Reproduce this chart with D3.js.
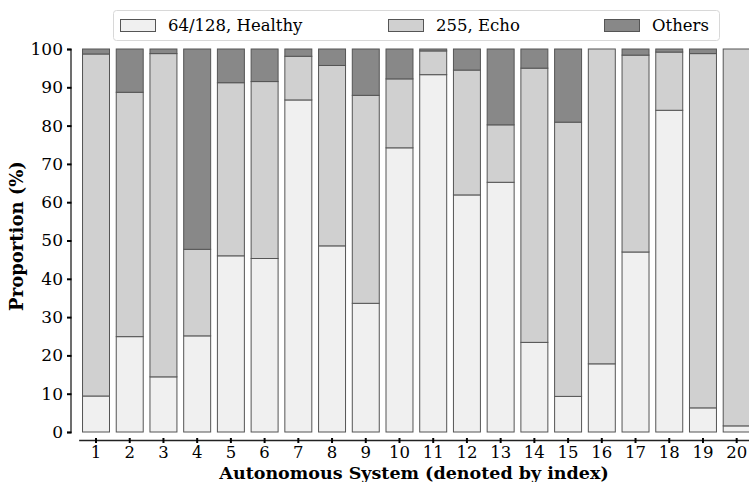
<!DOCTYPE html>
<html>
<head>
<meta charset="utf-8">
<script src="https://cdn.jsdelivr.net/npm/d3@7"></script>
<style>
  body { margin: 0; background: #fff; }
  text { font-family: "DejaVu Serif", serif; fill: #000; }
</style>
</head>
<body>
<svg id="chart" width="749" height="482"></svg>
<script>
// values, in percent
var systems = ["1","2","3","4","5","6","7","8","9","10","11","12","13","14","15","16","17","18","19","20"];
var healthy = [9.4, 24.9, 14.4, 25.1, 46.0, 45.3, 86.7, 48.6, 33.6, 74.2, 93.3, 61.9, 65.2, 23.4, 9.3, 17.8, 47.0, 84.0, 6.3, 1.6];
var echo    = [89.3, 63.8, 84.4, 22.6, 45.2, 46.2, 11.4, 47.1, 54.3, 18.0, 6.2, 32.6, 15.0, 71.6, 71.6, 82.2, 51.4, 15.2, 92.5, 98.4];
var seriesNames = ["64/128, Healthy", "255, Echo", "Others"];
var colors = ["#f0f0f0", "#d0d0d0", "#888888"];
var yTicks = [0, 10, 20, 30, 40, 50, 60, 70, 80, 90, 100];

var rows = systems.map(function(s, i) {
    return { sys: s, healthy: healthy[i], echo: echo[i], others: Math.max(0, 100 - healthy[i] - echo[i]) };
});
var stack = d3.stack().keys(["healthy", "echo", "others"])(rows);

var svg = d3.select("#chart");

var x = d3.scaleBand().domain(systems).range([79.15, 753.55]).paddingInner(0.2).paddingOuter(0.1);
var y = d3.scaleLinear().domain([0, 100]).range([432, 49]);

// bars
svg.selectAll("g.layer").data(stack).enter().append("g")
    .attr("class", "layer")
    .attr("fill", function(d, i) { return colors[i]; })
    .selectAll("rect").data(function(d) { return d; })
    .enter().append("rect")
        .attr("x", function(d) { return x(d.data.sys); })
        .attr("width", x.bandwidth())
        .attr("y", function(d) { return y(d[1]); })
        .attr("height", function(d) { return y(d[0]) - y(d[1]); })
        .attr("stroke", "#555")
        .attr("stroke-width", 1);

// y axis
var yAxis = d3.axisLeft(y).tickValues(yTicks).tickSize(3.5).tickPadding(4);
var gy = svg.append("g").attr("transform", "translate(70.5,0)").call(yAxis);
gy.select(".domain").attr("stroke", "#222").attr("stroke-width", 1.3);
gy.selectAll(".tick line").attr("stroke", "#000").attr("stroke-width", 2).attr("x2", -3.5).attr("x1", 1);
gy.selectAll(".tick text").style("font-family", "DejaVu Serif").style("font-size", "17px");

// x axis
var xAxis = d3.axisBottom(x).tickSizeInner(2.5).tickSizeOuter(0).tickPadding(3);
var gx = svg.append("g").attr("transform", "translate(0,440.5)").call(xAxis);
gx.select(".domain").attr("stroke", "#222").attr("stroke-width", 1.3)
    .attr("d", "M79.15,0H753.55");
gx.selectAll(".tick line").attr("stroke", "#000").attr("stroke-width", 2).attr("y1", -2.5);
gx.selectAll(".tick text").style("font-family", "DejaVu Serif").style("font-size", "16.5px");

// axis titles
svg.append("text")
    .attr("x", 414).attr("y", 478.5)
    .attr("text-anchor", "middle")
    .style("font-size", "17.5px").style("font-weight", "bold")
    .text("Autonomous System (denoted by index)");
svg.append("text")
    .attr("transform", "translate(23,236) rotate(-90)")
    .attr("text-anchor", "middle")
    .style("font-size", "18px").style("font-weight", "bold")
    .text("Proportion (%)");

// legend
var legend = svg.append("g");
legend.append("rect")
    .attr("x", 113.5).attr("y", 10.5).attr("width", 606).attr("height", 30)
    .attr("rx", 3).attr("fill", "#fff").attr("fill-opacity", 0.8)
    .attr("stroke", "#d8d8d8");
var legendX = [120, 388, 604];
seriesNames.forEach(function(name, i) {
    legend.append("rect")
        .attr("x", legendX[i] + 0.5).attr("y", 19.5).attr("width", 35).attr("height", 12)
        .attr("fill", colors[i]).attr("stroke", "#555");
    legend.append("text")
        .attr("x", legendX[i] + 48).attr("y", 31)
        .style("font-size", "16.5px")
        .text(name);
});
</script>
</body>
</html>
